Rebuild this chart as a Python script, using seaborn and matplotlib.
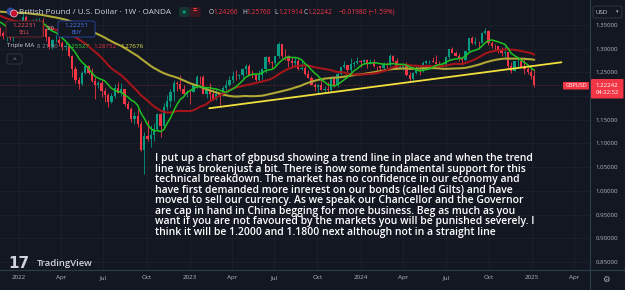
#%%
import numpy as np
import pandas as pd
import matplotlib
matplotlib.use("Agg")
import matplotlib.pyplot as plt
import matplotlib.dates as mdates
from matplotlib.patches import FancyBboxPatch, Circle
from matplotlib.lines import Line2D
import seaborn as sns

#%% data (weekly GBPUSD, OANDA)
# closes before the visible range, only used to warm up the moving averages
warmup_start = '2020-11-30'
warmup_close = [1.3436, 1.3226, 1.3515, 1.3566, 1.3673,
                1.3564, 1.3588, 1.3686, 1.3704, 1.3732, 1.3848, 1.4013, 1.3924,
                1.3835, 1.3929, 1.3866, 1.3793, 1.3833, 1.3700, 1.3838, 1.3875,
                1.3812, 1.3955, 1.4089, 1.4149, 1.4192, 1.4164, 1.4114, 1.3803,
                1.3882, 1.3824, 1.3891, 1.3761, 1.3758, 1.3900, 1.3873, 1.3874,
                1.3618, 1.3760, 1.3868, 1.3840, 1.3740, 1.3676, 1.3551, 1.3617,
                1.3745, 1.3759, 1.3681, 1.3500, 1.3423, 1.3442]

first_week = '2021-11-22'
open_ = [1.3442, 1.3337, 1.3268, 1.3269, 1.3234, 1.3400,
         # 2022
         1.3532, 1.3590, 1.3678, 1.3546, 1.3400, 1.3530, 1.3555, 1.3594, 1.3417, 1.3240,
         1.3034, 1.3180, 1.3185, 1.3115, 1.3035, 1.3066, 1.2836, 1.2574, 1.2337, 1.2261,
         1.2491, 1.2625, 1.2490, 1.2313, 1.2239, 1.2268, 1.2100, 1.2031, 1.1869, 1.2004,
         1.2163, 1.2068, 1.2141, 1.1834, 1.1734, 1.1508, 1.1587, 1.1412, 1.0858, 1.1168,
         1.1090, 1.1175, 1.1303, 1.1614, 1.1379, 1.1771, 1.1895, 1.2092, 1.2285, 1.2260,
         1.2143, 1.2047,
         # 2023
         1.2095, 1.2088, 1.2227, 1.2397, 1.2395, 1.2052, 1.2120, 1.2034, 1.1945, 1.2036,
         1.2032, 1.2172, 1.2229, 1.2334, 1.2416, 1.2414, 1.2440, 1.2567, 1.2633, 1.2446,
         1.2444, 1.2346, 1.2452, 1.2577, 1.2820, 1.2710, 1.2706, 1.2840, 1.3093, 1.2855,
         1.2849, 1.2747, 1.2697, 1.2735, 1.2577, 1.2587, 1.2466, 1.2381, 1.2239, 1.2200,
         1.2239, 1.2133, 1.2152, 1.2128, 1.2378, 1.2239, 1.2462, 1.2606, 1.2661, 1.2549,
         1.2683, 1.2700,
         # 2024
         1.2731, 1.2721, 1.2756, 1.2702, 1.2703, 1.2631, 1.2627, 1.2599, 1.2669, 1.2653,
         1.2856, 1.2734, 1.2598, 1.2622, 1.2637, 1.2448, 1.2370, 1.2494, 1.2547, 1.2522,
         1.2707, 1.2741, 1.2742, 1.2726, 1.2686, 1.2644, 1.2646, 1.2814, 1.2985, 1.2917,
         1.2853, 1.2804, 1.2760, 1.2945, 1.3215, 1.3124, 1.3126, 1.3123, 1.3322, 1.3375,
         1.3124, 1.3067, 1.3051, 1.2962, 1.2917, 1.2920, 1.2631, 1.2532, 1.2735, 1.2743,
         1.2620, 1.2570, 1.2515,
         # 2025
         1.24266]
high = [1.3450, 1.3374, 1.3280, 1.3375, 1.3460, 1.3548,
        1.3600, 1.3749, 1.3714, 1.3560, 1.3628, 1.3644, 1.3644, 1.3643, 1.3438, 1.3276,
        1.3214, 1.3298, 1.3238, 1.3168, 1.3149, 1.3090, 1.2858, 1.2638, 1.2406, 1.2525,
        1.2667, 1.2666, 1.2599, 1.2406, 1.2324, 1.2333, 1.2166, 1.2065, 1.2064, 1.2246,
        1.2293, 1.2276, 1.2150, 1.1900, 1.1761, 1.1660, 1.1738, 1.1475, 1.1235, 1.1496,
        1.1380, 1.1440, 1.1645, 1.1645, 1.1855, 1.2029, 1.2153, 1.2345, 1.2311, 1.2446,
        1.2243, 1.2125,
        1.2137, 1.2246, 1.2437, 1.2419, 1.2448, 1.2194, 1.2269, 1.2148, 1.2143, 1.2069,
        1.2204, 1.2343, 1.2423, 1.2525, 1.2546, 1.2475, 1.2584, 1.2667, 1.2680, 1.2547,
        1.2472, 1.2545, 1.2599, 1.2848, 1.2848, 1.2740, 1.2850, 1.3142, 1.3107, 1.2995,
        1.2873, 1.2818, 1.2818, 1.2800, 1.2746, 1.2630, 1.2548, 1.2424, 1.2272, 1.2260,
        1.2337, 1.2222, 1.2289, 1.2427, 1.2428, 1.2505, 1.2610, 1.2733, 1.2664, 1.2794,
        1.2734, 1.2827,
        1.2760, 1.2786, 1.2772, 1.2775, 1.2773, 1.2644, 1.2645, 1.2709, 1.2710, 1.2894,
        1.2870, 1.2803, 1.2665, 1.2660, 1.2709, 1.2500, 1.2509, 1.2634, 1.2594, 1.2733,
        1.2761, 1.2769, 1.2818, 1.2860, 1.2743, 1.2709, 1.2840, 1.2995, 1.3044, 1.2943,
        1.2900, 1.2822, 1.2956, 1.3230, 1.3266, 1.3239, 1.3167, 1.3343, 1.3434, 1.3390,
        1.3152, 1.3101, 1.3057, 1.3043, 1.3047, 1.2930, 1.2715, 1.2749, 1.2812, 1.2811,
        1.2811, 1.2608, 1.2607,
        1.25760]
low = [1.3278, 1.3194, 1.3161, 1.3183, 1.3171, 1.3395,
       1.3432, 1.3574, 1.3517, 1.3358, 1.3393, 1.3489, 1.3531, 1.3273, 1.3170, 1.3001,
       1.3000, 1.3138, 1.3051, 1.2982, 1.2973, 1.2822, 1.2411, 1.2276, 1.2156, 1.2235,
       1.2473, 1.2459, 1.2292, 1.1934, 1.2162, 1.1976, 1.1876, 1.1760, 1.1850, 1.1959,
       1.2064, 1.2002, 1.1800, 1.1717, 1.1444, 1.1406, 1.1351, 1.0839, 1.0350, 1.1057,
       1.0924, 1.1059, 1.1257, 1.1147, 1.1334, 1.1708, 1.1762, 1.1901, 1.2105, 1.2109,
       1.1993, 1.1985,
       1.1841, 1.2085, 1.2170, 1.2263, 1.2035, 1.1962, 1.1915, 1.1922, 1.1922, 1.1803,
       1.1993, 1.2107, 1.2219, 1.2275, 1.2346, 1.2367, 1.2379, 1.2458, 1.2440, 1.2392,
       1.2308, 1.2310, 1.2369, 1.2485, 1.2685, 1.2591, 1.2658, 1.2800, 1.2800, 1.2768,
       1.2620, 1.2615, 1.2616, 1.2548, 1.2540, 1.2446, 1.2380, 1.2231, 1.2110, 1.2037,
       1.2123, 1.2090, 1.2070, 1.2096, 1.2187, 1.2186, 1.2448, 1.2591, 1.2500, 1.2500,
       1.2612, 1.2680,
       1.2610, 1.2668, 1.2597, 1.2674, 1.2611, 1.2518, 1.2535, 1.2560, 1.2576, 1.2625,
       1.2709, 1.2575, 1.2587, 1.2540, 1.2427, 1.2300, 1.2300, 1.2464, 1.2445, 1.2510,
       1.2674, 1.2682, 1.2717, 1.2657, 1.2618, 1.2612, 1.2615, 1.2791, 1.2906, 1.2847,
       1.2750, 1.2665, 1.2750, 1.2940, 1.3105, 1.3088, 1.3002, 1.3118, 1.3311, 1.3070,
       1.3012, 1.2974, 1.2907, 1.2845, 1.2835, 1.2596, 1.2487, 1.2520, 1.2621, 1.2605,
       1.2475, 1.2475, 1.2352,
       1.21914]
close = [1.3337, 1.3268, 1.3269, 1.3234, 1.3400, 1.3532,
         1.3590, 1.3678, 1.3546, 1.3400, 1.3530, 1.3555, 1.3594, 1.3417, 1.3240, 1.3034,
         1.3180, 1.3185, 1.3115, 1.3035, 1.3066, 1.2836, 1.2574, 1.2337, 1.2261, 1.2491,
         1.2625, 1.2490, 1.2313, 1.2239, 1.2268, 1.2100, 1.2031, 1.1869, 1.2004, 1.2163,
         1.2068, 1.2141, 1.1834, 1.1734, 1.1508, 1.1587, 1.1412, 1.0858, 1.1168, 1.1090,
         1.1175, 1.1303, 1.1614, 1.1379, 1.1771, 1.1895, 1.2092, 1.2285, 1.2260, 1.2143,
         1.2047, 1.2095,
         1.2088, 1.2227, 1.2397, 1.2395, 1.2052, 1.2120, 1.2034, 1.1945, 1.2036, 1.2032,
         1.2172, 1.2229, 1.2334, 1.2416, 1.2414, 1.2440, 1.2567, 1.2633, 1.2446, 1.2444,
         1.2346, 1.2452, 1.2577, 1.2820, 1.2710, 1.2706, 1.2840, 1.3093, 1.2855, 1.2849,
         1.2747, 1.2697, 1.2735, 1.2577, 1.2587, 1.2466, 1.2381, 1.2239, 1.2200, 1.2239,
         1.2133, 1.2152, 1.2128, 1.2378, 1.2239, 1.2462, 1.2606, 1.2661, 1.2549, 1.2683,
         1.2700, 1.2731,
         1.2721, 1.2756, 1.2702, 1.2703, 1.2631, 1.2627, 1.2599, 1.2669, 1.2653, 1.2856,
         1.2734, 1.2598, 1.2622, 1.2637, 1.2448, 1.2370, 1.2494, 1.2547, 1.2522, 1.2707,
         1.2741, 1.2742, 1.2726, 1.2686, 1.2644, 1.2646, 1.2814, 1.2985, 1.2917, 1.2853,
         1.2804, 1.2760, 1.2945, 1.3215, 1.3124, 1.3126, 1.3123, 1.3322, 1.3375, 1.3124,
         1.3067, 1.3051, 1.2962, 1.2917, 1.2920, 1.2631, 1.2532, 1.2735, 1.2743, 1.2620,
         1.2570, 1.2515, 1.2421,
         1.22242]

ma_periods = [8, 21, 50]
ma_last = ['1.25527', '1.28752', '1.27676']

# hand drawn trend line (two anchor points)
trend_dates = ['2023-02-12', '2025-03-05']
trend_prices = [1.1743, 1.2713]

price_ticks = [1.35, 1.30, 1.25, 1.20, 1.15, 1.10, 1.05, 1.00, 0.95, 0.90, 0.85]
time_ticks = ['2022-01-01', '2022-04-01', '2022-07-01', '2022-10-01',
              '2023-01-01', '2023-04-01', '2023-07-01', '2023-10-01',
              '2024-01-01', '2024-04-01', '2024-07-01', '2024-10-01',
              '2025-01-01', '2025-04-01']
time_labels = ['2022', 'Apr', 'Jul', 'Oct', '2023', 'Apr', 'Jul', 'Oct',
               '2024', 'Apr', 'Jul', 'Oct', '2025', 'Apr']

header_ohlc = [('O', '1.24266'), ('H', '1.25760'), ('L', '1.21914'), ('C', '1.22242')]
header_change = ['\u22120.01980', '(\u22121.59%)']

note_lines = [
    "I put up a chart of gbpusd showing a trend line in place and when the trend",
    "line was brokenjust a bit. There is now some fundamental support for this",
    "technical breakdown. The market has no confidence in our economy and",
    "have first demanded more inrerest on our bonds (called Gilts) and have",
    "moved to sell our currency. As we speak our Chancellor and the Governor",
    "are cap in hand in China begging for more business. Beg as much as you",
    "want if you are not favoured by the markets you will be punished severely. I",
    "think it will be 1.2000 and 1.1800 next although not in a straight line",
]

#%% plot
sns.set_theme(style="dark")
plt.rcParams['font.family'] = ['Open Sans', 'DejaVu Sans']

BG = '#131722'
GRID = '#1c2029'
TXT = '#d1d4dc'
AXT = '#b2b5be'
UP = '#089981'
DOWN = '#f23645'
BORDER = '#2b3c4a'

fig = plt.figure(figsize=(6.25, 2.9), dpi=100, facecolor=BG)
ax = fig.add_axes([0, 20 / 290, 590 / 625, 270 / 290])
ax.set_facecolor(BG)

weeks = pd.date_range(first_week, periods=len(close), freq='W-MON')
df = pd.DataFrame({'open': open_, 'high': high, 'low': low, 'close': close}, index=weeks)
warm = pd.Series(warmup_close, index=pd.date_range(warmup_start, periods=len(warmup_close), freq='W-MON'))
all_close = pd.concat([warm, df['close']])

# candles
x = mdates.date2num(df.index)
colors = np.where(df['close'] >= df['open'], UP, DOWN)
ax.vlines(x, df['low'], df['high'], colors=colors, lw=0.6, zorder=2)
body = (df['close'] - df['open']).abs().clip(lower=0.0007)
ax.bar(x, body, bottom=df[['open', 'close']].min(axis=1), width=4.8,
       color=colors, linewidth=0, zorder=3)

# Triple MA 8 21 50 (simple)
xa = mdates.date2num(all_close.index)
ma_style = {50: ('#b0a834', 1.5), 21: ('#a3151b', 1.5), 8: ('#1fc21f', 1.1)}
for n in sorted(ma_periods, reverse=True):
    col, w = ma_style[n]
    sns.lineplot(x=xa, y=all_close.rolling(n).mean().to_numpy(), ax=ax,
                 color=col, lw=w, zorder=4)

# trend line
sns.lineplot(x=mdates.date2num(pd.to_datetime(trend_dates)), y=trend_prices, ax=ax,
             color='#f2e03c', lw=1.3, zorder=5)

# last price line
ax.axhline(close[-1], color=DOWN, lw=0.6, ls=(0, (1, 1.5)), alpha=0.45, zorder=1)

ax.set_xlim(mdates.date2num(pd.Timestamp('2021-11-22')), mdates.date2num(pd.Timestamp('2025-05-05')))
ax.set_ylim(0.8331, 1.4027)
ax.yaxis.tick_right()
ax.set_yticks(price_ticks)
ax.set_yticklabels(['' if abs(v - 1.20) < 1e-9 else f'{v:.5f}' for v in price_ticks])
ax.set_xticks(mdates.date2num(pd.to_datetime(time_ticks)))
ax.set_xticklabels(time_labels)
ax.tick_params(axis='y', length=0, pad=4.2, labelsize=4.4, labelcolor=AXT)
ax.tick_params(axis='x', length=0, pad=3.6, labelsize=4.5, labelcolor=AXT)
ax.grid(True, color=GRID, lw=0.7)
ax.set_xlabel('')
ax.set_ylabel('')
for s in ['top', 'left']:
    ax.spines[s].set_visible(False)
for s in ['right', 'bottom']:
    ax.spines[s].set_color(BORDER)
    ax.spines[s].set_linewidth(0.8)

# ---- overlay widgets in pixel units (origin top-left)
def px(x, y):
    return x / 100, (290 - y) / 100

def box(x0, y0, x1, y1, fc, ec='none', r=1.5, lw=0.6):
    p = FancyBboxPatch(px(x0, y1), (x1 - x0) / 100, (y1 - y0) / 100,
                       boxstyle=f"round,pad=0,rounding_size={r / 100}",
                       transform=fig.dpi_scale_trans, fc=fc, ec=ec, lw=lw, zorder=10)
    fig.add_artist(p)

def label(x, y, s, color=TXT, size=4.8, ha='left', weight='normal', **kw):
    fig.text(*px(x, y), s, transform=fig.dpi_scale_trans, color=color, fontsize=size,
             ha=ha, va='center', weight=weight, zorder=11, **kw)

fig.add_artist(Line2D([590 / 100] * 2, [0, 20 / 100], transform=fig.dpi_scale_trans,
                      color=BORDER, lw=0.8))
fig.add_artist(Line2D([590 / 100, 625 / 100], [20 / 100] * 2, transform=fig.dpi_scale_trans,
                      color=BORDER, lw=0.8))

# header
fig.add_artist(Circle(px(10.5, 11.5), 0.04, transform=fig.dpi_scale_trans, fc='#2d4a9a', ec='none', zorder=11))
fig.add_artist(Circle(px(14, 13.5), 0.035, transform=fig.dpi_scale_trans, fc='#c8102e', ec='white', lw=0.4, zorder=11))
label(19, 12, 'British Pound / U.S. Dollar \u00b7 1W \u00b7 OANDA', size=5.9)
box(179, 7, 189.5, 17, '#17332f', r=2)
fig.add_artist(Circle(px(184.2, 12), 0.016, transform=fig.dpi_scale_trans, fc=UP, ec='none', zorder=11))
box(190, 7, 200.5, 17, '#3a1820', r=2)
label(195.2, 11.6, '=', color=DOWN, size=5.5, ha='center', weight='bold')
for (k, v), xk in zip(header_ohlc, [209, 242, 274, 303.5]):
    label(xk, 12, k, color=TXT, size=4.8)
    label(xk + 4.3, 12, v, color=DOWN, size=4.8)
label(339, 12, header_change[0], color=DOWN, size=4.8)
label(369, 12, header_change[1], color=DOWN, size=4.8)

# sell / buy
box(6, 21, 43, 37, BG, ec='#7a2630', r=2)
label(24.5, 25.5, '1.22231', color='#f7525f', size=4.6, ha='center')
label(24.5, 33, 'SELL', color='#f7525f', size=3.8, ha='center')
label(50.5, 28.5, '2.0', color=TXT, size=4, ha='center')
box(58, 21, 95, 37, BG, ec='#2a4aa8', r=2)
label(76.5, 25.5, '1.22251', color='#4f7dff', size=4.6, ha='center')
label(76.5, 33, 'BUY', color='#4f7dff', size=3.8, ha='center')

# indicator legend
label(7, 46, 'Triple MA', color=TXT, size=4.4)
label(37, 46, '8 21 50', color='#8a8e99', size=4.4)
for v, col, xv in zip(ma_last, ['#3ad23a', '#e8323f', '#e6df4a'], [66, 93, 120]):
    label(xv, 46, v, color=col, size=4.5)
box(7, 54, 22, 64, BG, ec='#363a45', r=1.5)
label(14.5, 59.5, '^', color=AXT, size=4.5, ha='center')

# price scale widgets
box(593, 6, 622, 18, BG, ec='#363a45', r=2)
label(596, 12, 'USD', color=TXT, size=4.4)
label(617.5, 12, '\u25be', color=AXT, size=3.5, ha='center')
box(563, 82, 589, 89.5, DOWN, r=1)
label(576, 85.8, 'GBPUSD', color='white', size=4.0, ha='center')
box(591, 79, 623.5, 98.5, DOWN, r=1)
label(607, 85.5, '1.22242', color='white', size=4.4, ha='center')
label(607, 93, '04:22:52', color='white', size=4.2, ha='center')

# bottom
label(8, 263, '17', color=TXT, size=11, weight='heavy', family=['DejaVu Sans'])
label(37, 263, 'TradingView', color=TXT, size=6.8, weight='semibold')
label(606, 279.5, '\u2699', color=AXT, size=6, ha='center', family=['DejaVu Sans'])

# note
for i, line in enumerate(note_lines):
    label(155, 159 + i * 10.43, line, color='white', size=7.5, weight='semibold')

fig.savefig('out.png', dpi=100, facecolor=BG)
